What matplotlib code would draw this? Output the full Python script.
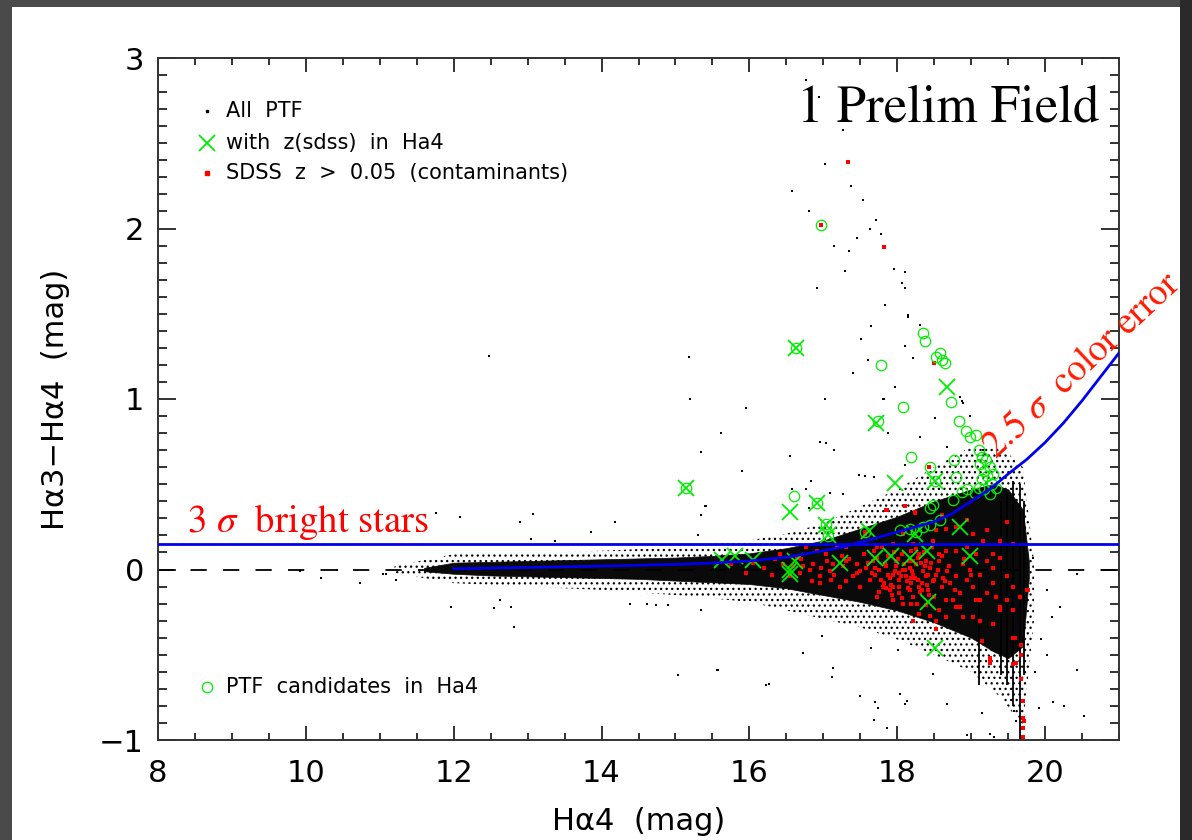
import matplotlib
matplotlib.use("Agg")
import matplotlib.pyplot as plt
from matplotlib.patches import Rectangle
from matplotlib.ticker import MultipleLocator

plt.rcParams['font.family'] = ['DejaVu Sans']
plt.rcParams['mathtext.fontset'] = 'stix'
plt.rcParams['hatch.linewidth'] = 0.9

# ---------------- data ----------------
# dense core of the PTF cloud (solid), by Ha4 magnitude
core_x = [11.6, 12.0, 12.5, 13.0, 13.5, 14.0, 14.5, 15.0, 15.5, 16.0, 16.5, 17.0, 17.5, 18.0, 18.5, 19.0, 19.3, 19.5, 19.7, 19.78]
core_hi = [0.01, 0.04, 0.045, 0.05, 0.055, 0.06, 0.065, 0.07, 0.08, 0.095, 0.125, 0.17, 0.24, 0.31, 0.40, 0.47, 0.50, 0.47, 0.35, 0.05]
core_lo = [-0.01, -0.025, -0.035, -0.04, -0.045, -0.05, -0.055, -0.065, -0.075, -0.085, -0.11, -0.15, -0.19, -0.24, -0.31, -0.40, -0.48, -0.52, -0.45, -0.05]

# sparse halo around the core
halo_x = [11.2, 12.0, 13.0, 14.0, 15.0, 16.0, 16.5, 17.0, 17.5, 18.0, 18.5, 19.0, 19.4, 19.7, 19.85]
halo_hi = [0.02, 0.09, 0.10, 0.11, 0.13, 0.17, 0.21, 0.27, 0.37, 0.47, 0.60, 0.72, 0.72, 0.60, 0.05]
halo_lo = [-0.02, -0.08, -0.10, -0.12, -0.15, -0.19, -0.24, -0.29, -0.34, -0.41, -0.50, -0.60, -0.75, -0.92, -0.30]

# vertical streaks of faint-star points at the magnitude limit
stripe_x = [19.10, 19.40, 19.48, 19.57, 19.66, 19.71]
stripe_top = [-0.05, 0.40, 0.45, 0.52, 0.50, 0.40]
stripe_bot = [-0.68, -0.62, -0.68, -0.80, -1.08, -0.62]

# individual sparse PTF points
ptf_x = [16.77, 16.82, 16.94, 17.27, 17.02, 17.38, 16.57, 17.54, 16.81, 17.71, 17.63, 17.78, 17.46, 17.15, 17.35,
         17.29, 17.96, 18.10, 18.06, 18.10, 16.91, 17.84, 18.15, 17.51, 17.65, 17.61, 17.40, 17.81, 17.88, 17.48,
         17.57, 17.69, 16.58, 16.76, 16.83, 17.09, 17.27, 16.80, 17.02, 16.95, 17.03, 17.14, 16.55, 15.18, 15.20,
         15.95, 15.61, 15.35, 15.90, 15.41, 15.35, 15.31, 12.48,
         18.15, 18.31, 18.10, 18.22, 17.97, 17.82, 18.51, 18.31, 18.10, 18.67, 18.85, 18.87, 18.89, 18.98, 19.16, 19.19,
         20.11, 20.02, 20.09, 19.86, 19.95, 20.43, 20.25, 20.52, 19.84, 20.02, 20.20, 20.43,
         16.27, 16.73, 17.13, 17.12, 17.70, 18.13, 17.65, 18.01, 18.67, 18.49, 17.86, 17.50, 16.98, 18.94, 15.56,
         16.23, 17.68, 18.04, 15.04, 15.57, 15.34, 14.39, 14.61, 14.74, 14.90, 11.96, 12.55, 12.78, 12.82, 12.63,
         11.22, 11.09, 10.20, 10.73, 11.05, 9.92, 10.42,
         11.76, 12.08, 13.07, 12.90, 14.18, 13.86, 13.04, 13.37, 15.40,
         19.15, 19.58, 19.61, 19.66, 19.92, 19.25, 19.31, 17.74, 18.10]
ptf_y = [2.87, 2.81, 2.77, 2.58, 2.38, 2.25, 2.22, 2.17, 2.10, 2.05, 2.00, 1.965, 1.947, 1.90, 1.87,
         1.75, 1.76, 1.745, 1.68, 1.65, 1.65, 1.55, 1.48, 1.35, 1.43, 1.23, 1.15, 1.00, 0.80, 0.555,
         0.55, 0.54, 0.47, 0.47, 0.52, 0.45, 0.445, 0.36, 1.00, 0.75, 0.74, 0.70, 0.665, 1.245, 1.00,
         0.95, 0.80, 0.69, 0.58, 0.37, 0.32, 0.20, 1.25,
         1.49, 1.435, 1.31, 1.24, 1.07, 1.00, 0.886, 0.78, 0.61, 0.72, 1.01, 0.99, 0.975, 0.90, 0.70, 0.68,
         -0.78, -0.50, -0.28, -0.60, -0.41, -0.59, -0.80, -0.86, 0.07, -0.12, -0.22, -0.025,
         -0.67, -0.49, -0.58, -0.63, -0.78, -0.77, -0.46, -0.47, -0.79, -0.61, -0.93, -0.74, -0.39, -0.97, -0.59,
         -0.68, -0.88, -0.73, -0.62, -0.59, -0.24, -0.20, -0.20, -0.21, -0.21, -0.22, -0.225, -0.22, -0.335, -0.18,
         -0.06, -0.025, -0.05, -0.08, -0.025, -0.01, 0.0,
         0.33, 0.31, 0.325, 0.28, 0.28, 0.22, 0.18, 0.165, 0.37,
         -0.84, -0.83, -0.89, -0.87, -0.81, -0.965, -0.98, -0.81, -0.79]

# SDSS z > 0.05 contaminants (red): scattered ones
red_x = [16.41, 16.73, 16.82, 16.86, 16.97, 17.09, 17.27, 17.31, 17.40, 17.49, 17.58, 17.63, 17.70, 17.76, 17.81,
         17.85, 17.90, 17.94, 17.99, 18.03, 18.08, 18.12, 18.17, 18.19, 18.21, 18.26, 18.28, 18.30, 18.35, 18.39,
         18.42, 18.44, 18.48, 18.53, 18.57, 18.60, 18.62, 18.67, 18.71, 18.75, 18.80, 18.85, 18.94, 19.03, 19.07,
         19.12, 19.21, 19.30, 19.39, 19.48, 19.57, 19.30, 19.39, 19.48, 19.57, 19.66, 19.75, 17.72, 17.85, 17.94,
         18.08, 18.21, 18.30, 18.44, 18.53, 18.57, 18.66, 18.80, 19.03, 19.12, 19.30, 19.39, 19.57, 19.61, 19.70,
         19.72, 19.68, 19.25, 19.25, 18.53, 18.10, 18.24, 17.85, 18.60, 17.56, 17.45, 17.31, 17.18, 17.04, 16.91,
         16.77, 16.64, 16.59, 16.95, 16.68, 17.11, 17.22, 17.49, 19.07, 19.16, 19.39, 18.94, 18.80, 18.48, 18.66,
         18.21, 17.94, 17.72, 18.30, 18.89, 18.98, 18.39, 17.67, 17.31, 17.13, 17.45, 17.94, 18.17, 18.85, 18.89,
         18.66, 18.21, 18.39, 18.03, 19.48, 19.57, 19.34, 19.21, 19.12, 19.30, 18.80, 18.66, 18.53, 18.08, 19.03,
         18.94, 19.21, 15.75, 15.95, 16.05, 16.20, 16.30, 16.35,
         17.34, 16.97, 17.82, 18.50, 18.43, 19.70, 19.70, 19.70, 17.86, 18.24, 17.56, 19.14, 19.26, 19.59, 19.57,
         19.68, 19.68, 19.77]
red_y = [0.09, 0.02, 0.00, 0.03, 0.01, -0.01, 0.02, -0.07, -0.04, -0.01, 0.01, -0.06, -0.03, 0.00, -0.10,
         0.02, -0.05, -0.03, 0.05, -0.06, 0.00, -0.04, 0.01, -0.08, -0.03, 0.03, -0.06, -0.10, -0.01, -0.04,
         -0.12, 0.01, -0.07, -0.03, 0.05, -0.10, -0.05, -0.01, -0.08, -0.18, -0.04, -0.14, -0.06, -0.10, -0.18,
         -0.03, 0.05, -0.08, -0.24, -0.04, -0.10, 0.09, 0.17, 0.28, 0.15, -0.16, -0.12, -0.16, -0.11, -0.18,
         -0.20, -0.16, -0.26, -0.27, -0.30, -0.24, -0.18, -0.22, -0.28, -0.30, -0.32, -0.22, -0.40, -0.55, -0.77,
         -0.89, -0.44, -0.52, -0.55, -0.35, 0.37, 0.33, 0.35, 0.32, 0.21, 0.15, 0.13, 0.14, 0.09, 0.11,
         0.13, 0.07, 0.02, -0.04, -0.02, -0.06, -0.10, -0.10, 0.09, 0.17, 0.07, 0.13, 0.11, 0.17, 0.11,
         0.15, 0.15, 0.13, 0.09, 0.03, 0.00, 0.05, 0.05, 0.05, 0.03, 0.03, -0.10, -0.12, -0.22, -0.28,
         -0.28, -0.30, -0.21, -0.14, -0.18, -0.24, -0.16, -0.14, -0.18, 0.01, 0.25, 0.24, 0.23, 0.21, 0.21,
         0.29, 0.23, 0.03, -0.02, 0.04, 0.01, -0.03, 0.06,
         2.39, 2.02, 1.89, 1.21, 0.60, -0.98, -0.93, -0.87, 0.35, 0.34, 0.22, -0.42, -0.545, -0.40, -0.555,
         -0.50, -0.64, -0.12]
# SDSS contaminants in the dense red knot around Ha4 ~ 18
red_knot_x = [17.60, 17.66, 17.72, 17.78, 17.84, 17.88, 17.92, 17.97, 18.01, 18.05, 18.09, 18.13, 18.16, 18.20,
              18.24, 18.28, 18.33, 18.37, 18.41, 18.46, 18.50, 18.55, 17.75, 17.82, 17.90, 17.96, 18.02, 18.07,
              18.14, 18.19, 18.25, 18.31, 18.36, 18.43, 18.50, 17.68, 17.80, 17.93, 18.06, 18.18, 18.27, 18.34,
              18.47, 17.35, 17.45, 17.55, 18.60, 18.70, 18.78, 18.90, 19.00, 16.95, 17.05, 17.15, 17.25, 16.45,
              16.55, 16.70, 16.85, 17.98, 18.11, 18.22, 18.03, 17.87, 18.18, 18.32, 17.70, 18.40, 18.57, 18.64]
red_knot_y = [0.04, -0.02, 0.07, -0.06, 0.03, 0.08, -0.09, -0.01, 0.06, -0.04, 0.03, -0.07, 0.05, -0.01,
              -0.05, 0.07, -0.08, 0.02, -0.03, 0.04, -0.06, 0.00, -0.13, -0.08, -0.12, 0.10, -0.10, 0.09,
              -0.11, 0.11, 0.12, -0.13, 0.10, -0.15, -0.16, 0.11, 0.13, -0.15, -0.17, -0.20, -0.20, -0.12,
              0.13, 0.06, -0.02, 0.09, 0.08, 0.02, -0.12, 0.06, -0.03, -0.08, 0.05, -0.03, 0.08, 0.03,
              -0.04, 0.06, -0.07, 0.02, 0.00, 0.05, -0.02, -0.03, -0.05, 0.04, 0.01, -0.09, 0.09, -0.07]

# objects with SDSS redshift in Ha4 (green crosses)
cross_x = [15.14, 16.63, 17.71, 17.97, 16.91, 16.55, 17.04, 17.07, 17.62, 15.63, 15.81, 16.05, 16.55, 16.55,
           16.62, 17.23, 17.70, 17.92, 18.17, 18.40, 18.98, 18.85, 18.42, 18.51, 18.51, 18.24, 18.68]
cross_y = [0.48, 1.30, 0.86, 0.51, 0.39, 0.34, 0.26, 0.20, 0.225, 0.055, 0.08, 0.055, 0.0, -0.025,
           0.05, 0.04, 0.065, 0.08, 0.07, 0.11, 0.08, 0.25, -0.19, -0.46, 0.52, 0.21, 1.07]

# PTF candidates in Ha4 (green circles)
cand_x = [15.14, 16.63, 17.78, 18.08, 17.74, 16.91, 17.04, 17.07, 16.61, 17.56, 16.97, 18.35, 18.38, 18.58,
          18.52, 18.61, 18.65, 18.73, 18.84, 18.93, 19.07, 18.98, 18.18, 18.77, 18.80, 18.44, 18.87, 18.75,
          18.95, 18.49, 18.44, 18.04, 18.17, 18.26, 18.35, 18.44, 18.58, 18.51,
          19.10, 19.15, 19.12, 19.20, 19.18, 19.25, 19.22, 19.30, 19.14, 19.28, 19.10, 19.33, 19.18, 19.05, 19.25]
cand_y = [0.48, 1.30, 1.20, 0.955, 0.87, 0.39, 0.265, 0.195, 0.43, 0.22, 2.02, 1.39, 1.34, 1.27,
          1.245, 1.23, 1.21, 0.98, 0.87, 0.815, 0.79, 0.775, 0.66, 0.64, 0.54, 0.60, 0.455, 0.41,
          0.475, 0.38, 0.36, 0.23, 0.24, 0.22, 0.25, 0.26, 0.29, 0.52,
          0.70, 0.66, 0.62, 0.64, 0.58, 0.60, 0.55, 0.56, 0.53, 0.50, 0.48, 0.48, 0.47, 0.45, 0.44]

# 2.5 sigma colour-error curve and 3 sigma bright-star line
curve_x = [12.0, 12.5, 13.0, 13.5, 14.0, 14.5, 15.0, 15.5, 16.0, 16.5, 17.0, 17.25, 17.5, 17.75, 18.0, 18.25,
           18.5, 18.75, 19.0, 19.25, 19.5, 19.75, 20.0, 20.25, 20.5, 20.75, 21.0]
curve_y = [0.004, 0.008, 0.012, 0.016, 0.02, 0.025, 0.03, 0.038, 0.05, 0.072, 0.11, 0.13, 0.16, 0.19, 0.22, 0.25,
           0.28, 0.33, 0.40, 0.47, 0.56, 0.645, 0.745, 0.86, 0.99, 1.13, 1.27]
bright_level = 0.15

xticks = [8, 10, 12, 14, 16, 18, 20]
yticks = [-1, 0, 1, 2, 3]
ytick_labels = ['−1', '0', '1', '2', '3']

# ---------------- figure ----------------
W, H = 1192, 840
fig = plt.figure(figsize=(W / 100, H / 100), dpi=100)
fig.patch.set_facecolor('#4a4a4a')
fig.add_artist(Rectangle((1180 / W, 0), 12 / W, 1, transform=fig.transFigure,
                         facecolor='#2a2a2a', edgecolor='none', zorder=-2))
fig.add_artist(Rectangle((12 / W, 0), (1180 - 12) / W, (H - 7) / H, transform=fig.transFigure,
                         facecolor='white', edgecolor='none', zorder=-1))

ax = fig.add_axes([158 / W, (H - 740) / H, (1119 - 158) / W, (740 - 58) / H])
ax.set_facecolor('none')
ax.set_xlim(8, 21)
ax.set_ylim(-1, 3)

# cloud
ax.fill_between(halo_x, halo_lo, halo_hi, facecolor='none', edgecolor='black', hatch='...',
                linewidth=0, zorder=1)
ax.fill_between(core_x, core_lo, core_hi, facecolor='#0a0a0a', edgecolor='#0a0a0a', linewidth=0.5, zorder=2)
ax.vlines(stripe_x, stripe_bot, stripe_top, color='black', linewidth=1.3, zorder=2)
ax.scatter(ptf_x, ptf_y, s=2.5, marker='s', color='black', linewidths=0, zorder=3)
ax.scatter(red_x + red_knot_x, red_y + red_knot_y, s=9, marker='s', color='#ff0000', linewidths=0, zorder=4)

ax.axhline(0, color='black', linewidth=1.3, dashes=(9, 9), zorder=2.5)

ax.plot(cand_x, cand_y, linestyle='none', marker='o', markersize=7.5, markerfacecolor='none',
        markeredgecolor='#00ee00', markeredgewidth=0.9, zorder=5)
ax.plot(cross_x, cross_y, linestyle='none', marker='x', markersize=11, markeredgecolor='#00ee00',
        markeredgewidth=1.3, zorder=5)

ax.axhline(bright_level, color='#0000ee', linewidth=2.0, zorder=6)
ax.plot(curve_x, curve_y, color='#0000ee', linewidth=2.0, zorder=6)

# annotations
ax.text(20.74, 2.625, '1 Prelim Field', family='STIXGeneral', fontsize=38, color='black',
        ha='right', va='baseline', zorder=7)
ax.text(8.39, 0.218, '3 $\\sigma$  bright stars', family='STIXGeneral', fontsize=28, color='#ff0000',
        ha='left', va='baseline', zorder=7)
ax.text(20.50, 1.20, '2.5 $\\sigma$  color error', family='STIXGeneral', fontsize=27, color='#ff1a00',
        ha='center', va='center', rotation=43, rotation_mode='anchor', zorder=7, clip_on=False)

# legend built by hand
lx_m, lx_t = 0.051, 0.0708
leg_fs = 15
ax.plot([lx_m], [0.922], transform=ax.transAxes, marker='s', markersize=1.8, color='black', linestyle='none')
ax.text(lx_t, 0.922, 'All  PTF', transform=ax.transAxes, fontsize=leg_fs, va='center', ha='left')
ax.plot([lx_m], [0.875], transform=ax.transAxes, marker='x', markersize=11, markeredgecolor='#00ee00',
        markeredgewidth=1.3, linestyle='none')
ax.text(lx_t, 0.875, 'with  z(sdss)  in  Ha4', transform=ax.transAxes, fontsize=leg_fs, va='center', ha='left')
ax.plot([lx_m], [0.831], transform=ax.transAxes, marker='s', markersize=2.8, color='#ff0000', linestyle='none')
ax.text(lx_t, 0.831, 'SDSS  z  >  0.05  (contaminants)', transform=ax.transAxes, fontsize=leg_fs,
        va='center', ha='left')
ax.plot([lx_m], [0.0777], transform=ax.transAxes, marker='o', markersize=7.5, markerfacecolor='none',
        markeredgecolor='#00ee00', markeredgewidth=0.9, linestyle='none')
ax.text(lx_t, 0.0777, 'PTF  candidates  in  Ha4', transform=ax.transAxes, fontsize=leg_fs, va='center', ha='left')

# axes styling
ax.set_xticks(xticks)
ax.set_yticks(yticks)
ax.set_yticklabels(ytick_labels)
ax.xaxis.set_minor_locator(MultipleLocator(0.5))
ax.yaxis.set_minor_locator(MultipleLocator(0.1))
ax.tick_params(which='both', direction='in', top=True, right=True, width=1.3, colors='#222222',
               labelsize=22, labelcolor='black')
ax.tick_params(axis='x', which='major', length=10, pad=14)
ax.tick_params(axis='x', which='minor', length=5)
ax.tick_params(axis='y', which='major', length=13, pad=10)
ax.tick_params(axis='y', which='minor', length=6.5)
for sp in ax.spines.values():
    sp.set_linewidth(1.4)
    sp.set_color('#333333')

ax.set_xlabel('Hα4  (mag)', fontsize=22, va='center')
ax.xaxis.set_label_coords(0.5, -(822 - 740) / 682)
ax.set_ylabel('Hα3−Hα4  (mag)', fontsize=22, va='center')
ax.yaxis.set_label_coords(-(158 - 55) / 961, 0.5)

fig.savefig('out.png', dpi=100, facecolor=fig.get_facecolor())
